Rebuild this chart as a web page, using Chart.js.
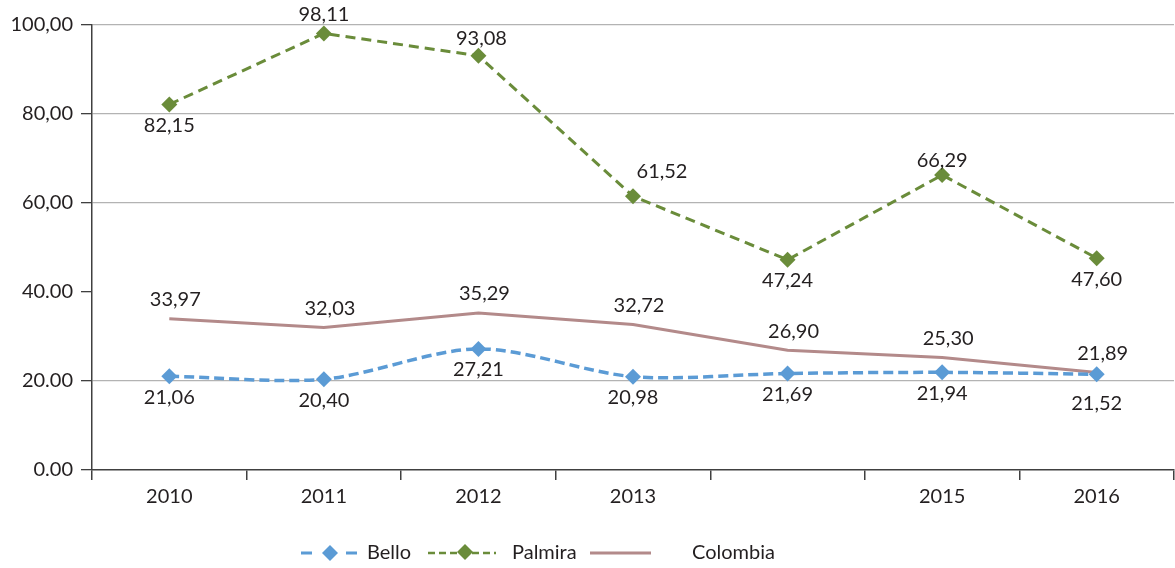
<!DOCTYPE html>
<html>
<head>
<meta charset="utf-8">
<script src="https://cdn.jsdelivr.net/npm/chart.js@4"></script>
<style>
  html, body { margin: 0; padding: 0; background: #fff; overflow: hidden; }
  #c { display: block; }
</style>
</head>
<body>
<canvas id="c" width="1182" height="568"></canvas>
<script>
const categories = ['2010', '2011', '2012', '2013', '2014', '2015', '2016'];
const xTickLabels = ['2010', '2011', '2012', '2013', '', '2015', '2016'];
const yTickLabels = ['0.00', '20.00', '40.00', '60,00', '80,00', '100,00'];
const bello = [21.06, 20.40, 27.21, 20.98, 21.69, 21.94, 21.52];
const palmira = [82.15, 98.11, 93.08, 61.52, 47.24, 66.29, 47.60];
const colombia = [33.97, 32.03, 35.29, 32.72, 26.90, 25.30, 21.89];
const seriesNames = ['Bello', 'Palmira', 'Colombia'];
const palmiraLabelPos = ['below', 'above', 'above', 'aboveRight', 'below', 'above', 'below'];
const belloLabelPos = ['below', 'below', 'below', 'below', 'below', 'below', 'belowFar'];
const colombiaLabelPos = ['above', 'above', 'above', 'above', 'above', 'above', 'above'];

const TEXT = '#231f20';
const FONT = 'Lato, "Open Sans", sans-serif';
const BLUE = '#5b9bd5';
const GREEN = '#6a8c3a';
const ROSE = '#b38a8a';

const labelPositions = [belloLabelPos, palmiraLabelPos, colombiaLabelPos];

const dataLabels = {
  id: 'dataLabels',
  afterDatasetsDraw(chart) {
    const ctx = chart.ctx;
    ctx.save();
    ctx.font = '20px ' + FONT;
    ctx.fillStyle = TEXT;
    ctx.textAlign = 'center';
    ctx.textBaseline = 'middle';
    chart.data.datasets.forEach((ds, di) => {
      const meta = chart.getDatasetMeta(di);
      meta.data.forEach((pt, i) => {
        const pos = labelPositions[di][i];
        let dx = 0, dy = 0;
        if (pos === 'above') { dy = -20; }
        if (pos === 'below') { dy = 21; }
        if (pos === 'belowFar') { dy = 29; }
        if (pos === 'aboveRight') { dx = 29; dy = -25; }
        if (di === 2) { dx = 6; dy = -19; }
        if (di === 1 && i === 1) { dy = -19; }
        if (di === 1 && i === 2) { dx = 3; dy = -17; }
        if (di === 1 && i === 5) { dy = -14; }
        const txt = ds.data[i].toFixed(2).replace('.', ',');
        ctx.fillText(txt, pt.x + dx, pt.y + dy);
      });
    });
    ctx.restore();
  }
};

const customLegend = {
  id: 'customLegend',
  afterDraw(chart) {
    const ctx = chart.ctx;
    const y = 553;
    ctx.save();
    ctx.font = '20px ' + FONT;
    ctx.fillStyle = TEXT;
    ctx.textBaseline = 'middle';
    ctx.textAlign = 'left';
    const diamond = (cx, cy, r, color) => {
      ctx.beginPath();
      ctx.moveTo(cx, cy - r);
      ctx.lineTo(cx + r, cy);
      ctx.lineTo(cx, cy + r);
      ctx.lineTo(cx - r, cy);
      ctx.closePath();
      ctx.fillStyle = color;
      ctx.fill();
    };
    // Bello
    ctx.strokeStyle = BLUE; ctx.lineWidth = 3;
    ctx.setLineDash([11, 34]);
    ctx.beginPath(); ctx.moveTo(301, y); ctx.lineTo(357, y); ctx.stroke();
    diamond(330, y, 8, BLUE);
    ctx.fillStyle = TEXT;
    ctx.fillText(seriesNames[0], 367, y);
    // Palmira
    ctx.strokeStyle = GREEN; ctx.lineWidth = 2.5;
    ctx.setLineDash([7, 4]);
    ctx.beginPath(); ctx.moveTo(428, y); ctx.lineTo(496, y); ctx.stroke();
    diamond(465, y - 1, 8, GREEN);
    ctx.fillStyle = TEXT;
    ctx.fillText(seriesNames[1], 512, y);
    // Colombia
    ctx.strokeStyle = ROSE; ctx.lineWidth = 3;
    ctx.setLineDash([]);
    ctx.beginPath(); ctx.moveTo(590, y); ctx.lineTo(651, y); ctx.stroke();
    ctx.fillStyle = TEXT;
    ctx.fillText(seriesNames[2], 692, y);
    ctx.restore();
  }
};

new Chart(document.getElementById('c'), {
  type: 'line',
  data: {
    labels: categories,
    datasets: [
      {
        label: seriesNames[0],
        data: bello,
        borderColor: BLUE,
        backgroundColor: BLUE,
        borderWidth: 3.5,
        borderDash: [10, 5],
        tension: 0.3,
        pointStyle: 'rectRot',
        pointRadius: 8,
        pointBorderWidth: 0,
        pointBackgroundColor: BLUE,
        order: 1
      },
      {
        label: seriesNames[1],
        data: palmira,
        borderColor: GREEN,
        backgroundColor: GREEN,
        borderWidth: 3,
        borderDash: [10, 6],
        tension: 0,
        pointStyle: 'rectRot',
        pointRadius: 8,
        pointBorderWidth: 0,
        pointBackgroundColor: GREEN,
        order: 0
      },
      {
        label: seriesNames[2],
        data: colombia,
        borderColor: ROSE,
        backgroundColor: ROSE,
        borderWidth: 3,
        tension: 0,
        pointRadius: 0,
        order: 2
      }
    ]
  },
  options: {
    responsive: false,
    devicePixelRatio: 1,
    animation: false,
    layout: { padding: { top: 25, right: 0, bottom: 0, left: 0 } },
    plugins: {
      legend: { display: false },
      tooltip: { enabled: false }
    },
    scales: {
      x: {
        type: 'category',
        offset: true,
        grid: {
          offset: true,
          drawOnChartArea: false,
          tickLength: 10,
          tickColor: '#404040',
          lineWidth: 1.5
        },
        border: { color: '#404040', width: 1.5 },
        ticks: {
          callback: (v, i) => xTickLabels[i],
          font: { size: 20, family: FONT },
          color: TEXT,
          padding: 5,
          maxRotation: 0,
          autoSkip: false
        },
        afterFit: s => { s.height = 98; }
      },
      y: {
        min: 0,
        max: 100,
        grid: {
          color: c => (c.tick && (c.tick.value === 40 || c.tick.value === 0)) ? 'rgba(0,0,0,0)' : '#b3b3b3',
          lineWidth: 1.3,
          tickColor: '#404040',
          tickLength: 11
        },
        border: { color: '#404040', width: 1.5 },
        ticks: {
          stepSize: 20,
          callback: v => yTickLabels[Math.round(v / 20)],
          font: { size: 20, family: FONT },
          color: TEXT,
          padding: 8
        },
        afterFit: s => { s.width = 92; }
      }
    }
  },
  plugins: [dataLabels, customLegend]
});
</script>
</body>
</html>
